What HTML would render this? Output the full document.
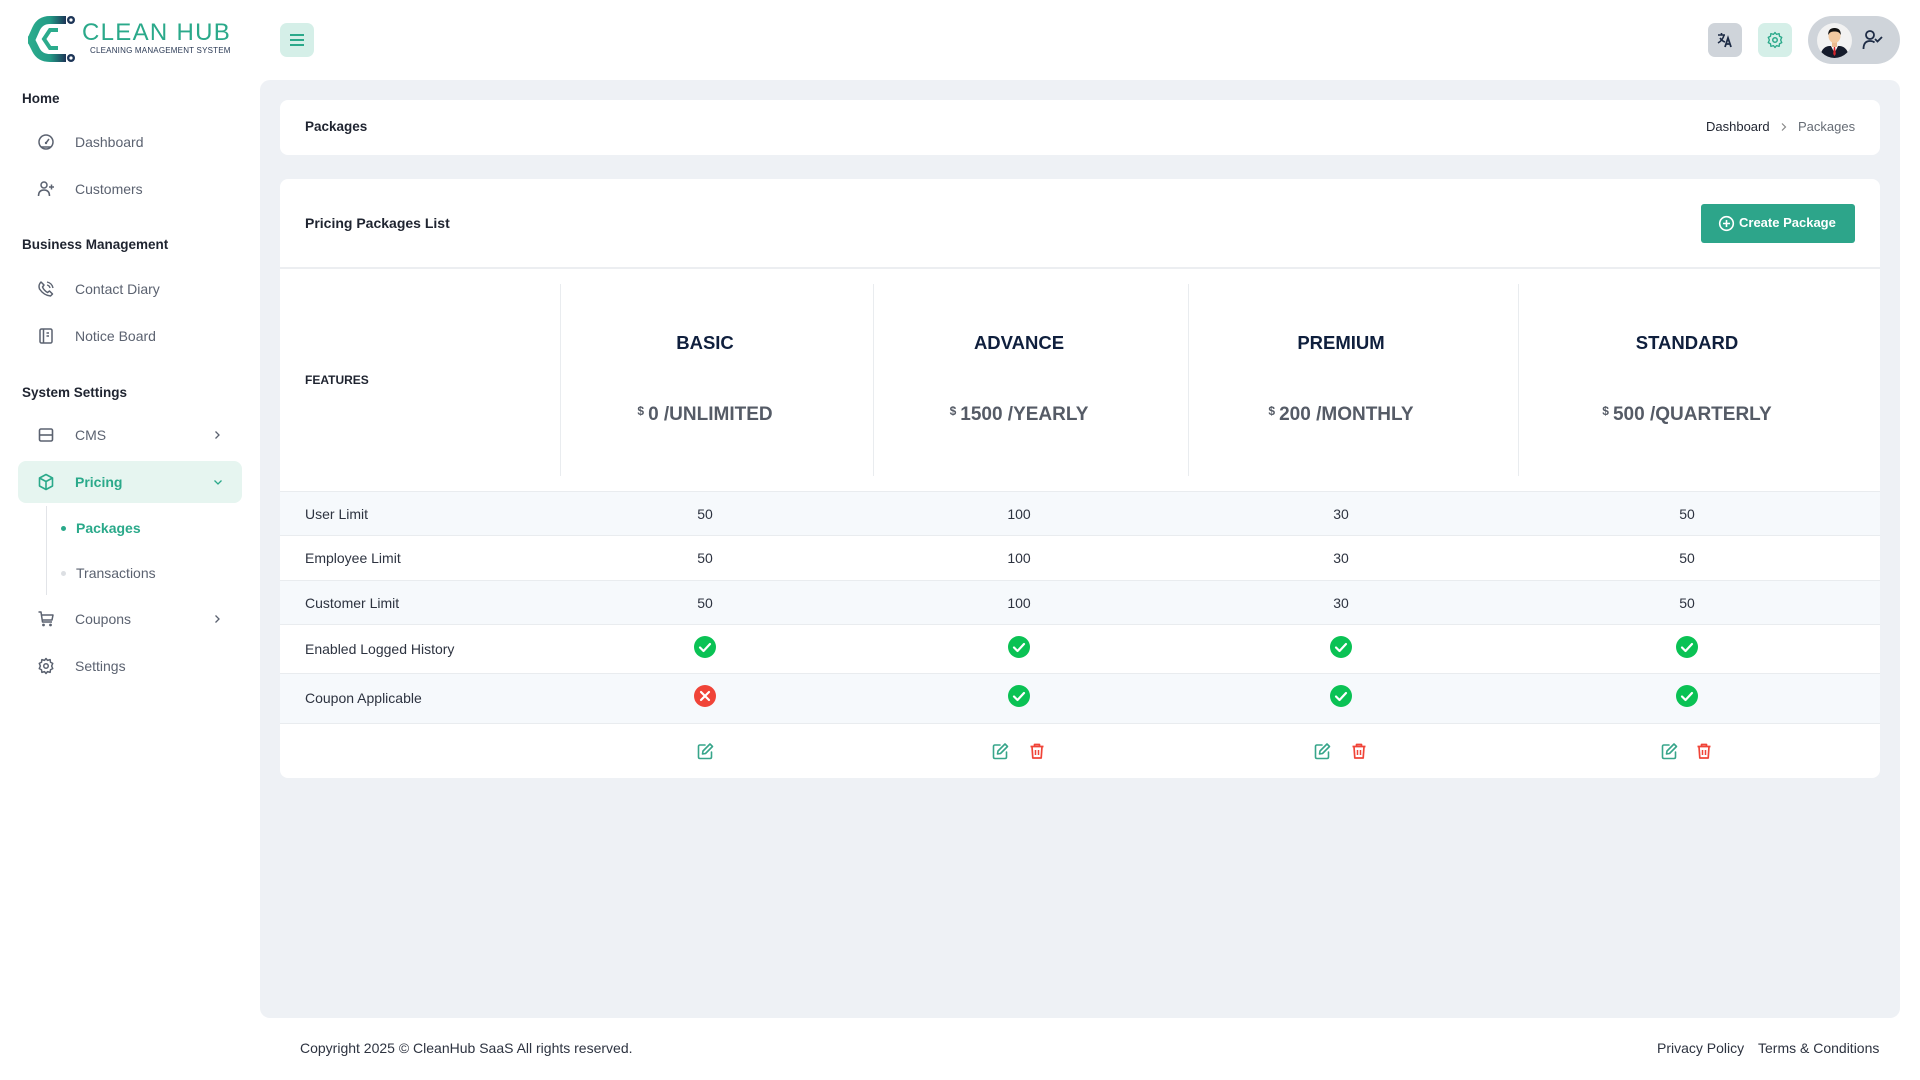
<!DOCTYPE html>
<html>
<head>
<meta charset="utf-8">
<style>
*{box-sizing:border-box;margin:0;padding:0}
html,body{width:1920px;height:1080px;overflow:hidden;background:#fff;font-family:"Liberation Sans",Arial,sans-serif;color:#2d3340}
.a{position:absolute;white-space:nowrap}
.t{position:absolute;white-space:nowrap;line-height:20px;height:20px}
.h{font-weight:bold;font-size:13.5px;color:#1f2430}
.m{font-size:14px;color:#5b6270}
.ic{position:absolute;width:18px;height:18px}
.c{position:absolute;text-align:center;white-space:nowrap}
.vl{position:absolute;top:284px;height:192px;width:1px;background:#e9ecef}
.row{position:absolute;left:280px;width:1600px;border-top:1px solid #e9ecef}
.stripe{background:#f6f9fc}
.lbl{position:absolute;left:25px;font-size:14px;line-height:20px;color:#2d3340}
.val{position:absolute;width:120px;text-align:center;font-size:14px;line-height:20px;color:#2d3340}
.name{font-size:18.5px;font-weight:bold;color:#0f1f3d;width:300px;line-height:24px}
.price{font-size:19px;font-weight:bold;color:#555b66;width:320px;line-height:24px}
.price sup{font-size:12px;font-weight:bold;vertical-align:top;position:relative;top:-4px;margin-right:4px}
</style>
</head>
<body>

<!-- Logo -->
<svg class="a" style="left:28px;top:13px" width="52" height="52" viewBox="0 0 52 52">
  <defs>
    <linearGradient id="lg" x1="0" y1="0" x2="1" y2="0">
      <stop offset="0" stop-color="#2bab8c"/>
      <stop offset="0.55" stop-color="#239a86"/>
      <stop offset="1" stop-color="#1d3557"/>
    </linearGradient>
  </defs>
  <path d="M38 7 L22 7 Q12 7 8 16 L4 25 Q2 27 4 29 L8 37 Q12 45 22 45 L38 45" fill="none" stroke="url(#lg)" stroke-width="8" stroke-linejoin="round"/>
  <path d="M30 17 L22 17 L16 26 L22 35 L30 35" fill="none" stroke="#2bab8c" stroke-width="4"/>
  <circle cx="43" cy="7" r="4" fill="#1d3557"/><circle cx="43" cy="7" r="1.6" fill="#fff"/>
  <circle cx="43" cy="45" r="4" fill="#1d3557"/><circle cx="43" cy="45" r="1.6" fill="#fff"/>
</svg>
<div class="a" style="left:82px;top:19px;font-size:24px;line-height:28px;color:#2aa98a;letter-spacing:1.3px;">CLEAN HUB</div>
<div class="a" style="left:90px;top:46px;font-size:8px;line-height:10px;color:#2b3a55;letter-spacing:0.2px;">CLEANING MANAGEMENT SYSTEM</div>

<!-- Hamburger -->
<div class="a" style="left:280px;top:23px;width:34px;height:34px;border-radius:7px;background:#d5efe8;"></div>
<div class="a" style="left:290px;top:34px;width:14px;height:2px;background:#2aa98a"></div>
<div class="a" style="left:290px;top:39px;width:14px;height:2px;background:#2aa98a"></div>
<div class="a" style="left:290px;top:44px;width:14px;height:2px;background:#2aa98a"></div>

<!-- Top right -->
<div class="a" style="left:1708px;top:23px;width:34px;height:34px;border-radius:7px;background:#cfd4da;"></div>
<svg class="a" style="left:1716px;top:31px" width="18" height="18" viewBox="0 0 18 18">
  <path d="M2 4 H9 M5.5 2 V4 M8 4 Q7 9 2 12 M4 7 Q6 10 9 11" fill="none" stroke="#1d2b45" stroke-width="1.6"/>
  <path d="M9 16 L12 7 L15 16 M10 13 H14" fill="none" stroke="#1d2b45" stroke-width="1.8"/>
</svg>
<div class="a" style="left:1758px;top:23px;width:34px;height:34px;border-radius:7px;background:#d5efe8;"></div>
<svg class="a" style="left:1766px;top:31px" width="18" height="18" viewBox="0 0 24 24">
  <circle cx="12" cy="12" r="3" fill="none" stroke="#2aa98a" stroke-width="2"/>
  <path d="M12 2 L14 4.5 L17.5 3.5 L18 7 L21 8.5 L19.5 12 L21 15.5 L18 17 L17.5 20.5 L14 19.5 L12 22 L10 19.5 L6.5 20.5 L6 17 L3 15.5 L4.5 12 L3 8.5 L6 7 L6.5 3.5 L10 4.5 Z" fill="none" stroke="#2aa98a" stroke-width="1.8" stroke-linejoin="round"/>
</svg>
<div class="a" style="left:1808px;top:16px;width:92px;height:48px;border-radius:24px;background:#cfd4da;"></div>
<svg class="a" style="left:1817px;top:23px" width="35" height="35" viewBox="0 0 35 35">
  <defs><clipPath id="cc"><circle cx="17.5" cy="17.5" r="17.5"/></clipPath></defs>
  <g clip-path="url(#cc)">
    <rect width="35" height="35" fill="#f2f2f2"/>
    <path d="M3 35 Q4 24 12 23 L23 23 Q31 24 32 35 Z" fill="#151b2b"/>
    <path d="M14 23 L17.5 30 L21 23 Z" fill="#fff"/>
    <path d="M16.8 24 L18.2 24 L18.8 31 L17.5 33 L16.2 31 Z" fill="#d3232a"/>
    <rect x="15" y="18" width="5" height="6" fill="#e9b98f"/>
    <ellipse cx="17.5" cy="13" rx="6" ry="7" fill="#f2c9a0"/>
    <path d="M11.2 12 Q11 5 17.5 5 Q24 5 23.8 12 Q22 8 17.5 8.5 Q13 8 11.2 12 Z" fill="#111"/>
  </g>
</svg>
<svg class="a" style="left:1862px;top:29px" width="22" height="22" viewBox="0 0 22 22">
  <circle cx="8" cy="6" r="4" fill="none" stroke="#1d2b45" stroke-width="1.8"/>
  <path d="M1.5 20 Q1.5 12 8 12 Q11 12 12.5 13.5" fill="none" stroke="#1d2b45" stroke-width="1.8"/>
  <path d="M13 10 L15.5 12.5 L20 8" fill="none" stroke="#1d2b45" stroke-width="1.8"/>
</svg>

<!-- Sidebar -->
<div class="t h" style="left:22px;top:89px">Home</div>
<svg class="ic" style="left:37px;top:133px" viewBox="0 0 18 18"><circle cx="9" cy="9" r="7" fill="none" stroke="#5b6270" stroke-width="1.5"/><path d="M9 10 L12 6" stroke="#5b6270" stroke-width="1.5"/><circle cx="9" cy="10" r="1.2" fill="#5b6270"/><path d="M4 14 H14" stroke="#5b6270" stroke-width="1.5"/></svg>
<div class="t m" style="left:75px;top:132px">Dashboard</div>
<svg class="ic" style="left:37px;top:180px" viewBox="0 0 18 18"><circle cx="7" cy="5" r="3" fill="none" stroke="#5b6270" stroke-width="1.5"/><path d="M1.5 16 Q1.5 10 7 10 Q12.5 10 12.5 16" fill="none" stroke="#5b6270" stroke-width="1.5"/><path d="M12 7 H17 M14.5 4.5 V9.5" stroke="#5b6270" stroke-width="1.5"/></svg>
<div class="t m" style="left:75px;top:179px">Customers</div>

<div class="t h" style="left:22px;top:235px">Business Management</div>
<svg class="ic" style="left:37px;top:280px" viewBox="0 0 18 18"><path d="M4 2 L7 5 L5.5 7 Q7 10.5 10.5 12.5 L12.5 11 L15.5 14 L13.5 16 Q7 15.5 2.5 9 Q1 5 4 2 Z" fill="none" stroke="#5b6270" stroke-width="1.5" stroke-linejoin="round"/><path d="M10 2 Q15 3 16 8 M10 5 Q12.5 5.5 13 8" fill="none" stroke="#5b6270" stroke-width="1.4"/></svg>
<div class="t m" style="left:75px;top:279px">Contact Diary</div>
<svg class="ic" style="left:37px;top:327px" viewBox="0 0 18 18"><rect x="3" y="2" width="12" height="14" rx="1.5" fill="none" stroke="#5b6270" stroke-width="1.5"/><path d="M6.5 2 V16 M9.5 6 H12 M9.5 9 H12" stroke="#5b6270" stroke-width="1.5"/></svg>
<div class="t m" style="left:75px;top:326px">Notice Board</div>

<div class="t h" style="left:22px;top:383px">System Settings</div>
<svg class="ic" style="left:37px;top:426px" viewBox="0 0 18 18"><rect x="2.5" y="3" width="13" height="12" rx="1.5" fill="none" stroke="#5b6270" stroke-width="1.6"/><path d="M2.5 9 H15.5" stroke="#5b6270" stroke-width="1.6"/></svg>
<div class="t m" style="left:75px;top:425px">CMS</div>
<svg class="a" style="left:212px;top:430px" width="10" height="10" viewBox="0 0 10 10"><path d="M3.5 1.5 L7 5 L3.5 8.5" fill="none" stroke="#5b6270" stroke-width="1.3"/></svg>

<div class="a" style="left:18px;top:461px;width:224px;height:42px;border-radius:8px;background:#e6f5f0"></div>
<svg class="ic" style="left:37px;top:473px" viewBox="0 0 18 18"><path d="M9 1.5 L15.5 5 L15.5 13 L9 16.5 L2.5 13 L2.5 5 Z M2.5 5 L9 8.5 L15.5 5 M9 8.5 V16.5" fill="none" stroke="#2aa98a" stroke-width="1.6" stroke-linejoin="round"/></svg>
<div class="t" style="left:75px;top:472px;font-size:14px;color:#2aa98a;font-weight:bold">Pricing</div>
<svg class="a" style="left:213px;top:477px" width="10" height="10" viewBox="0 0 10 10"><path d="M1.5 3.5 L5 7 L8.5 3.5" fill="none" stroke="#2aa98a" stroke-width="1.3"/></svg>

<div class="a" style="left:46px;top:506px;width:1px;height:89px;background:#e2e4e8"></div>
<div class="a" style="left:61px;top:526px;width:5px;height:5px;border-radius:50%;background:#2aa98a"></div>
<div class="t" style="left:76px;top:518px;font-size:14px;color:#2aa98a;font-weight:bold">Packages</div>
<div class="a" style="left:61px;top:571px;width:5px;height:5px;border-radius:50%;background:#dcdfe3"></div>
<div class="t m" style="left:76px;top:563px">Transactions</div>

<svg class="ic" style="left:37px;top:610px" viewBox="0 0 18 18"><path d="M1.5 2 H4 L5.5 12 H15 M4.5 5 H16 L15 10 H5" fill="none" stroke="#5b6270" stroke-width="1.5" stroke-linejoin="round"/><circle cx="6.5" cy="15" r="1.4" fill="#5b6270"/><circle cx="13.5" cy="15" r="1.4" fill="#5b6270"/></svg>
<div class="t m" style="left:75px;top:609px">Coupons</div>
<svg class="a" style="left:212px;top:614px" width="10" height="10" viewBox="0 0 10 10"><path d="M3.5 1.5 L7 5 L3.5 8.5" fill="none" stroke="#5b6270" stroke-width="1.3"/></svg>
<svg class="ic" style="left:37px;top:657px" viewBox="0 0 24 24"><circle cx="12" cy="12" r="3" fill="none" stroke="#5b6270" stroke-width="2"/><path d="M12 2 L14 4.5 L17.5 3.5 L18 7 L21 8.5 L19.5 12 L21 15.5 L18 17 L17.5 20.5 L14 19.5 L12 22 L10 19.5 L6.5 20.5 L6 17 L3 15.5 L4.5 12 L3 8.5 L6 7 L6.5 3.5 L10 4.5 Z" fill="none" stroke="#5b6270" stroke-width="2" stroke-linejoin="round"/></svg>
<div class="t m" style="left:75px;top:656px">Settings</div>

<!-- Main gray area -->
<div class="a" style="left:260px;top:80px;width:1640px;height:938px;background:#eef1f5;border-radius:10px"></div>

<!-- Breadcrumb card -->
<div class="a" style="left:280px;top:100px;width:1600px;height:55px;background:#fff;border-radius:8px"></div>
<div class="t" style="left:305px;top:117px;font-size:13.5px;font-weight:bold;color:#1f2430">Packages</div>
<div class="t" style="left:1706px;top:117px;font-size:13px;color:#1f2430">Dashboard</div>
<svg class="a" style="left:1779px;top:122px" width="9" height="10" viewBox="0 0 9 10"><path d="M3 1.5 L6.5 5 L3 8.5" fill="none" stroke="#888" stroke-width="1.2"/></svg>
<div class="t" style="left:1798px;top:117px;font-size:13px;color:#666c75">Packages</div>

<!-- Main card -->
<div class="a" style="left:280px;top:179px;width:1600px;height:599px;background:#fff;border-radius:8px;overflow:hidden">
  <div class="t" style="left:25px;top:34px;font-size:14px;font-weight:bold;color:#1f2430">Pricing Packages List</div>
  <div class="a" style="left:0;top:88px;width:1600px;height:2px;background:#eceef1"></div>
</div>
<div class="a" style="left:1701px;top:204px;width:154px;height:39px;border-radius:3px;background:#2da58a"></div>
<svg class="a" style="left:1718px;top:215px" width="17" height="17" viewBox="0 0 17 17"><circle cx="8.5" cy="8.5" r="6.8" fill="none" stroke="#fff" stroke-width="1.6"/><path d="M8.5 5 V12 M5 8.5 H12" stroke="#fff" stroke-width="1.6"/></svg>
<div class="t" style="left:1739px;top:213px;font-size:13px;font-weight:bold;color:#fff">Create Package</div>

<!-- Table header -->
<div class="vl" style="left:560px"></div>
<div class="vl" style="left:873px"></div>
<div class="vl" style="left:1188px"></div>
<div class="vl" style="left:1518px"></div>
<div class="t" style="left:305px;top:370px;font-size:12px;font-weight:bold;color:#1f2430">FEATURES</div>

<div class="c name" style="left:555px;top:331px">BASIC</div>
<div class="c name" style="left:869px;top:331px">ADVANCE</div>
<div class="c name" style="left:1191px;top:331px">PREMIUM</div>
<div class="c name" style="left:1537px;top:331px">STANDARD</div>

<div class="c price" style="left:545px;top:403px"><sup>$</sup>0 /UNLIMITED</div>
<div class="c price" style="left:859px;top:403px"><sup>$</sup>1500 /YEARLY</div>
<div class="c price" style="left:1181px;top:403px"><sup>$</sup>200 /MONTHLY</div>
<div class="c price" style="left:1527px;top:403px"><sup>$</sup>500 /QUARTERLY</div>

<!-- Rows -->
<div class="row stripe" style="top:491px;height:44px">
  <div class="lbl" style="top:12px">User Limit</div>
  <div class="val" style="left:365px;top:12px">50</div>
  <div class="val" style="left:679px;top:12px">100</div>
  <div class="val" style="left:1001px;top:12px">30</div>
  <div class="val" style="left:1347px;top:12px">50</div>
</div>
<div class="row" style="top:535px;height:45px;background:#fff">
  <div class="lbl" style="top:12px">Employee Limit</div>
  <div class="val" style="left:365px;top:12px">50</div>
  <div class="val" style="left:679px;top:12px">100</div>
  <div class="val" style="left:1001px;top:12px">30</div>
  <div class="val" style="left:1347px;top:12px">50</div>
</div>
<div class="row stripe" style="top:580px;height:44px">
  <div class="lbl" style="top:12px">Customer Limit</div>
  <div class="val" style="left:365px;top:12px">50</div>
  <div class="val" style="left:679px;top:12px">100</div>
  <div class="val" style="left:1001px;top:12px">30</div>
  <div class="val" style="left:1347px;top:12px">50</div>
</div>
<div class="row" style="top:624px;height:49px;background:#fff">
  <div class="lbl" style="top:14px">Enabled Logged History</div>
</div>
<div class="row stripe" style="top:673px;height:50px">
  <div class="lbl" style="top:14px">Coupon Applicable</div>
</div>
<div class="row" style="top:723px;height:55px;background:transparent"></div>

<!-- check icons -->
<svg width="0" height="0" style="position:absolute">
  <defs>
    <g id="ok"><circle cx="11" cy="11" r="11" fill="#0ac254"/><path d="M6 11.5 L9.5 15 L16 8" fill="none" stroke="#fff" stroke-width="2.2" stroke-linecap="round" stroke-linejoin="round"/></g>
    <g id="no"><circle cx="11" cy="11" r="11" fill="#f04438"/><path d="M7 7 L15 15 M15 7 L7 15" fill="none" stroke="#fff" stroke-width="2.2" stroke-linecap="round"/></g>
    <g id="ed"><path d="M9 3 H4 Q2.5 3 2.5 4.5 V15 Q2.5 16.5 4 16.5 H14 Q15.5 16.5 15.5 15 V10" fill="none" stroke="#37a58a" stroke-width="1.6" stroke-linecap="round"/><path d="M14 2 L16.5 4.5 L9.5 11.5 L6.5 12 L7 9 Z" fill="none" stroke="#37a58a" stroke-width="1.6" stroke-linejoin="round"/></g>
    <g id="dl"><path d="M2.5 4.5 H15.5 M6.5 4.5 V2.5 H11.5 V4.5" fill="none" stroke="#f04438" stroke-width="1.7" stroke-linejoin="round"/><path d="M4 4.5 L4.8 16 H13.2 L14 4.5" fill="none" stroke="#f04438" stroke-width="1.7" stroke-linejoin="round"/><path d="M7.5 8 V13 M10.5 8 V13" stroke="#f04438" stroke-width="1.5"/></g>
  </defs>
</svg>
<svg class="a" style="left:694px;top:636px" width="22" height="22"><use href="#ok"/></svg>
<svg class="a" style="left:1008px;top:636px" width="22" height="22"><use href="#ok"/></svg>
<svg class="a" style="left:1330px;top:636px" width="22" height="22"><use href="#ok"/></svg>
<svg class="a" style="left:1676px;top:636px" width="22" height="22"><use href="#ok"/></svg>

<svg class="a" style="left:694px;top:685px" width="22" height="22"><use href="#no"/></svg>
<svg class="a" style="left:1008px;top:685px" width="22" height="22"><use href="#ok"/></svg>
<svg class="a" style="left:1330px;top:685px" width="22" height="22"><use href="#ok"/></svg>
<svg class="a" style="left:1676px;top:685px" width="22" height="22"><use href="#ok"/></svg>

<svg class="a" style="left:696px;top:742px" width="18" height="18"><use href="#ed"/></svg>
<svg class="a" style="left:991px;top:742px" width="18" height="18"><use href="#ed"/></svg>
<svg class="a" style="left:1028px;top:742px" width="18" height="18"><use href="#dl"/></svg>
<svg class="a" style="left:1313px;top:742px" width="18" height="18"><use href="#ed"/></svg>
<svg class="a" style="left:1350px;top:742px" width="18" height="18"><use href="#dl"/></svg>
<svg class="a" style="left:1660px;top:742px" width="18" height="18"><use href="#ed"/></svg>
<svg class="a" style="left:1695px;top:742px" width="18" height="18"><use href="#dl"/></svg>

<!-- Footer -->
<div class="t" style="left:300px;top:1038px;font-size:14px;color:#2d3340">Copyright 2025 © CleanHub SaaS All rights reserved.</div>
<div class="t" style="left:1657px;top:1038px;font-size:14px;color:#2d3340">Privacy Policy</div>
<div class="t" style="left:1758px;top:1038px;font-size:14px;color:#2d3340">Terms &amp; Conditions</div>

</body>
</html>
